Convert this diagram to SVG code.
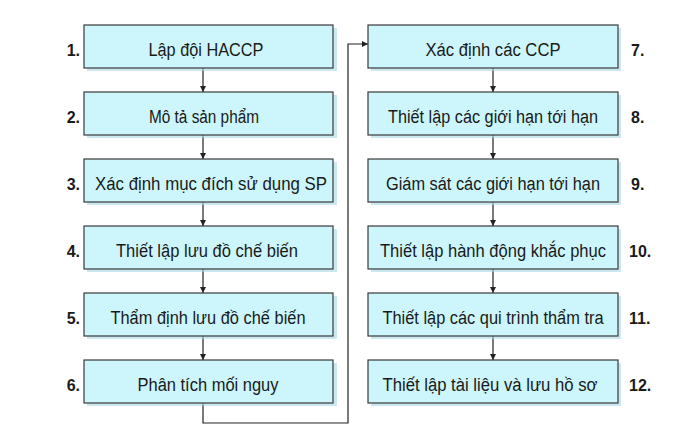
<svg xmlns="http://www.w3.org/2000/svg" width="700" height="434" viewBox="0 0 700 434">
<defs>
<style>
.box{fill:#ccf6fb;stroke:#3a3a3a;stroke-width:1.2}
.sh{fill:#a9d8e8;opacity:0.6}
.t{font-family:"Liberation Sans",Arial,sans-serif;font-size:18px;fill:#1a1a1a;text-anchor:middle}
.n{font-family:"Liberation Sans",Arial,sans-serif;font-size:16px;font-weight:bold;fill:#1a1a1a}
.nl{text-anchor:end}
.c{fill:none;stroke:#222;stroke-width:1.2}
</style>
<marker id="ah" viewBox="0 0 10 10" refX="10" refY="5" markerWidth="5" markerHeight="5" orient="auto">
<path d="M0,0 L10,5 L0,10 z" fill="#222"/>
</marker>
</defs>
<rect width="700" height="434" fill="#fff"/>
<g id="connectors">
<line class="c" x1="203" y1="68" x2="203" y2="92" marker-end="url(#ah)"/>
<line class="c" x1="203" y1="135" x2="203" y2="159" marker-end="url(#ah)"/>
<line class="c" x1="203" y1="202" x2="203" y2="226" marker-end="url(#ah)"/>
<line class="c" x1="203" y1="269" x2="203" y2="293" marker-end="url(#ah)"/>
<line class="c" x1="203" y1="336" x2="203" y2="360" marker-end="url(#ah)"/>
<polyline class="c" points="203,403 203,423 348,423 348,44 368,44" marker-end="url(#ah)"/>
<line class="c" x1="493" y1="68" x2="493" y2="92" marker-end="url(#ah)"/>
<line class="c" x1="493" y1="135" x2="493" y2="159" marker-end="url(#ah)"/>
<line class="c" x1="493" y1="202" x2="493" y2="226" marker-end="url(#ah)"/>
<line class="c" x1="493" y1="269" x2="493" y2="293" marker-end="url(#ah)"/>
<line class="c" x1="493" y1="336" x2="493" y2="360" marker-end="url(#ah)"/>
</g>
<g id="n1"><rect class="sh" x="87" y="28" width="250" height="43"/><rect class="box" x="84" y="25" width="249" height="43"/><text class="t" x="206" y="56" textLength="115" lengthAdjust="spacingAndGlyphs">Lập đội HACCP</text><text class="n nl" x="80" y="56">1.</text></g>
<g id="n2"><rect class="sh" x="87" y="95" width="250" height="43"/><rect class="box" x="84" y="92" width="249" height="43"/><text class="t" x="204" y="123" textLength="110" lengthAdjust="spacingAndGlyphs">Mô tả sản phẩm</text><text class="n nl" x="80" y="123">2.</text></g>
<g id="n3"><rect class="sh" x="87" y="162" width="250" height="43"/><rect class="box" x="84" y="159" width="249" height="43"/><text class="t" x="211" y="190" textLength="232" lengthAdjust="spacingAndGlyphs">Xác định mục đích sử dụng SP</text><text class="n nl" x="80" y="190">3.</text></g>
<g id="n4"><rect class="sh" x="87" y="229" width="250" height="43"/><rect class="box" x="84" y="226" width="249" height="43"/><text class="t" x="207" y="257" textLength="182" lengthAdjust="spacingAndGlyphs">Thiết lập lưu đồ chế biến</text><text class="n nl" x="80" y="257">4.</text></g>
<g id="n5"><rect class="sh" x="87" y="296" width="250" height="43"/><rect class="box" x="84" y="293" width="249" height="43"/><text class="t" x="208" y="324" textLength="195" lengthAdjust="spacingAndGlyphs">Thẩm định lưu đồ chế biến</text><text class="n nl" x="80" y="324">5.</text></g>
<g id="n6"><rect class="sh" x="87" y="363" width="250" height="43"/><rect class="box" x="84" y="360" width="249" height="43"/><text class="t" x="208" y="391" textLength="141" lengthAdjust="spacingAndGlyphs">Phân tích mối nguy</text><text class="n nl" x="80" y="391">6.</text></g>
<g id="n7"><rect class="sh" x="371" y="28" width="250" height="43"/><rect class="box" x="368" y="25" width="250" height="43"/><text class="t" x="493" y="56" textLength="135" lengthAdjust="spacingAndGlyphs">Xác định các CCP</text><text class="n" x="631" y="56">7.</text></g>
<g id="n8"><rect class="sh" x="371" y="95" width="250" height="43"/><rect class="box" x="368" y="92" width="250" height="43"/><text class="t" x="493" y="123" textLength="210" lengthAdjust="spacingAndGlyphs">Thiết lập các giới hạn tới hạn</text><text class="n" x="631" y="123">8.</text></g>
<g id="n9"><rect class="sh" x="371" y="162" width="250" height="43"/><rect class="box" x="368" y="159" width="250" height="43"/><text class="t" x="493" y="190" textLength="214" lengthAdjust="spacingAndGlyphs">Giám sát các giới hạn tới hạn</text><text class="n" x="631" y="190">9.</text></g>
<g id="n10"><rect class="sh" x="371" y="229" width="250" height="43"/><rect class="box" x="368" y="226" width="250" height="43"/><text class="t" x="493" y="257" textLength="226" lengthAdjust="spacingAndGlyphs">Thiết lập hành động khắc phục</text><text class="n" x="629" y="257">10.</text></g>
<g id="n11"><rect class="sh" x="371" y="296" width="250" height="43"/><rect class="box" x="368" y="293" width="250" height="43"/><text class="t" x="493" y="324" textLength="221" lengthAdjust="spacingAndGlyphs">Thiết lập các qui trình thẩm tra</text><text class="n" x="629" y="324">11.</text></g>
<g id="n12"><rect class="sh" x="371" y="363" width="250" height="43"/><rect class="box" x="368" y="360" width="250" height="43"/><text class="t" x="490" y="391" textLength="215" lengthAdjust="spacingAndGlyphs">Thiết lập tài liệu và lưu hồ sơ</text><text class="n" x="629" y="391">12.</text></g>
</svg>
